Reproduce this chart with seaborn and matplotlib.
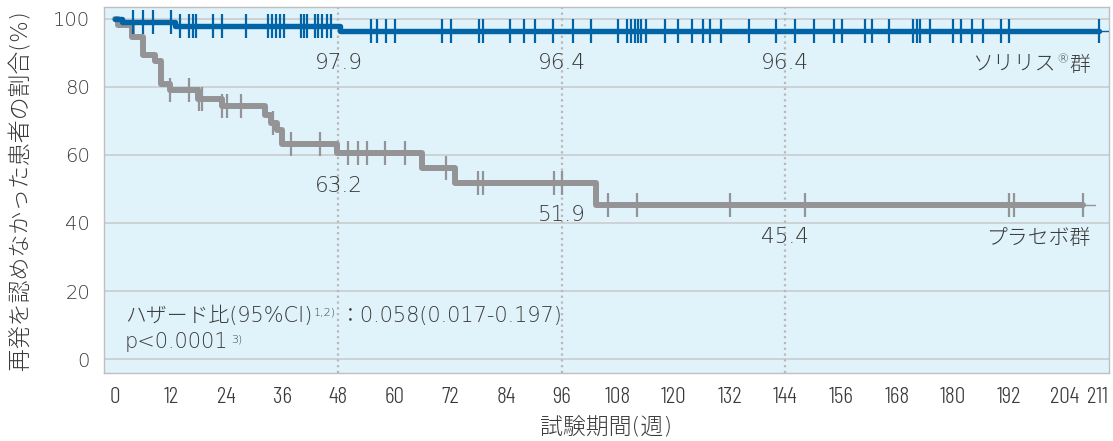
"""
Kaplan-Meier style chart: relapse-free patients, Soliris vs placebo.
"""

import numpy as np
import pandas as pd
import matplotlib
matplotlib.use("Agg")
import matplotlib.pyplot as plt
import seaborn as sns
from matplotlib import font_manager

# ── data ──────────────────────────────────────────────────────────────────────
soliris_step_weeks = [0, 1.5, 13.0, 48.3]
soliris_step_pct = [100, 99.0, 97.9, 96.4]
soliris_end_week = 211.3
soliris_censor_weeks = [
    3.9, 6.1, 8.1, 12.0, 14.0, 16.0, 16.8, 17.5, 21.0, 23.1, 28.1, 32.9, 33.7,
    34.5, 35.4, 36.4, 39.9, 40.6, 41.2, 43.0, 43.7, 44.5, 45.5, 46.4, 54.9,
    56.2, 58.2, 60.1, 70.3, 72.2, 78.2, 79.1, 84.8, 87.8, 90.2, 94.0, 98.3,
    102.2, 108.1, 109.9, 110.8, 111.7, 112.3, 112.9, 114.0, 118.1, 121.0,
    124.0, 126.4, 127.8, 130.1, 136.2, 142.0, 146.0, 150.2, 154.4, 156.1,
    161.2, 162.5, 166.3, 171.3, 172.2, 173.0, 175.0, 180.0, 181.8, 184.0,
    186.4, 190.4, 192.1, 211.3,
]

placebo_step_weeks = [0, 0.7, 3.6, 6.1, 8.6, 9.8, 11.8, 17.9, 22.9, 32.2, 33.6,
                      34.7, 35.8, 47.8, 65.9, 73.0, 103.4]
placebo_step_pct = [100, 98.2, 94.7, 89.5, 87.7, 80.9, 79.0, 76.5, 74.3, 71.8,
                    69.5, 67.4, 63.2, 60.7, 56.1, 51.9, 45.4]
placebo_end_week = 208.0
placebo_censor_weeks = [
    11.8, 16.0, 18.0, 18.7, 23.1, 24.0, 27.0, 34.0, 37.9, 44.0, 50.1, 52.1,
    54.1, 58.1, 62.3, 71.2, 78.0, 79.0, 94.3, 96.1, 106.0, 112.2, 132.1, 148.2,
    192.1, 193.1, 208.0,
]

landmark_weeks = [48, 96, 144]
soliris_landmark_labels = ["97.9", "96.4", "96.4"]
placebo_landmark_labels = ["63.2", "51.9", "45.4"]

x_ticks = [0, 12, 24, 36, 48, 60, 72, 84, 96, 108, 120, 132, 144, 156, 168,
           180, 192, 204, 211]
y_ticks = [0, 20, 40, 60, 80, 100]

BLUE = "#0064a7"
GRAY = "#949497"
BG = "#e0f2fa"
GRID = "#c6c9cc"
TEXT = "#3a3a3a"
THIN = 250  # DejaVu ExtraLight for latin, Noto CJK Light for kana/kanji

# ── style ──────────────────────────────────────────────────────────────────────
sns.set_theme(style="white")
plt.rcParams["font.family"] = ["DejaVu Sans", "Noto Sans CJK JP"]
plt.rcParams["font.weight"] = THIN
plt.rcParams["axes.labelweight"] = THIN
plt.rcParams["text.color"] = TEXT
plt.rcParams["axes.labelcolor"] = TEXT
plt.rcParams["xtick.color"] = TEXT
plt.rcParams["ytick.color"] = TEXT

names = {f.name for f in font_manager.fontManager.ttflist}
if "Barlow Condensed" in names:
    tick_font = dict(family="Barlow Condensed", weight=300, fontsize=17)
else:
    tick_font = dict(family="DejaVu Sans", stretch="condensed", fontsize=13)


def curve_frame(step_weeks, step_pct, end_week):
    return pd.DataFrame({"week": list(step_weeks) + [end_week],
                         "pct": list(step_pct) + [step_pct[-1]]})


def censor_frame(step_weeks, step_pct, censor_weeks):
    idx = np.searchsorted(step_weeks, censor_weeks, side="right") - 1
    return pd.DataFrame({"week": censor_weeks,
                         "pct": np.asarray(step_pct)[idx]})


def text_run(ax, x, y, parts, align="left"):
    # consecutive text pieces on one baseline (for superscripts)
    renderer = ax.figure.canvas.get_renderer()
    sign = 1 if align == "left" else -1
    seq = parts if align == "left" else parts[::-1]
    dx = 0.0
    for s, size, rise, pad in seq:
        t = ax.annotate(s, xy=(x, y), xytext=(sign * (dx + pad), rise),
                        textcoords="offset points", fontsize=size,
                        ha=align, va="baseline", color=TEXT)
        w = t.get_window_extent(renderer).width * 72 / ax.figure.dpi
        dx += pad + w


fig, ax = plt.subplots(figsize=(11.13, 4.41), dpi=100)
fig.subplots_adjust(left=0.0934, right=0.9964, bottom=0.1542, top=0.9841)
ax.set_facecolor(BG)

# grid
for yv in y_ticks:
    ax.axhline(yv, color=GRID, lw=1.1, zorder=0)
for xv in landmark_weeks:
    ax.axvline(xv, color="#b8b8b8", lw=1.6, ls=(0, (1, 1.6)), zorder=0)

# curves
placebo = curve_frame(placebo_step_weeks, placebo_step_pct, placebo_end_week)
soliris = curve_frame(soliris_step_weeks, soliris_step_pct, soliris_end_week)

sns.lineplot(data=placebo, x="week", y="pct", ax=ax, color=GRAY, lw=4.3,
             drawstyle="steps-post", estimator=None, sort=False, zorder=2)
ax.plot([placebo_end_week, placebo_end_week + 2.6],
        [placebo_step_pct[-1]] * 2, color=GRAY, lw=1.0, zorder=2)
sns.scatterplot(data=censor_frame(placebo_step_weeks, placebo_step_pct,
                                  placebo_censor_weeks),
                x="week", y="pct", ax=ax, marker="|", s=300, color=GRAY,
                linewidth=1.6, zorder=3)

sns.lineplot(data=soliris, x="week", y="pct", ax=ax, color=BLUE, lw=3.9,
             drawstyle="steps-post", estimator=None, sort=False, zorder=4)
ax.plot([soliris_end_week, soliris_end_week + 2.4],
        [soliris_step_pct[-1]] * 2, color=BLUE, lw=1.0, zorder=4)
sns.scatterplot(data=censor_frame(soliris_step_weeks, soliris_step_pct,
                                  soliris_censor_weeks),
                x="week", y="pct", ax=ax, marker="|", s=280, color=BLUE,
                linewidth=1.6, zorder=5)

# landmark values
for wk, lab in zip(landmark_weeks, soliris_landmark_labels):
    ax.text(wk, 87.0, lab, ha="center", va="center", fontsize=15.5)
for wk, lab, yy in zip(landmark_weeks, placebo_landmark_labels, [51.0, 42.4, 36.0]):
    ax.text(wk, yy, lab, ha="center", va="center", fontsize=15.5)

# axes
ax.set_xlim(-2.36, 213.5)
ax.set_ylim(-4.1, 103.5)
ax.set_xticks(x_ticks)
ax.set_xticklabels([str(v) for v in x_ticks], **tick_font)
ax.set_yticks(y_ticks)
ax.set_yticklabels([str(v) for v in y_ticks], fontsize=14)
ax.tick_params(axis="both", length=0, pad=10)
for sp in ax.spines.values():
    sp.set_color("#bfbfbf")
    sp.set_linewidth(1.0)

ax.set_xlabel("試験期間(週)", fontsize=16.5)
ax.set_ylabel("再発を認めなかった患者の割合(%)", fontsize=16.5)
ax.xaxis.set_label_coords(0.5, -0.12)
ax.yaxis.set_label_coords(-0.0706, 0.5)

fig.canvas.draw()
text_run(ax, 209.6, 84.8, [("ソリリス", 15, 0, 0), ("®", 9, 5, 0.5),
                           ("群", 15, 0, 0.5)], align="right")
text_run(ax, 209.6, 33.8, [("プラセボ群", 15, 0, 0)], align="right")
text_run(ax, 2.1, 11.0, [("ハザード比(95%CI)", 15, 0, 0),
                         ("1,2)", 8, 4.5, 1),
                         ("：0.058(0.017-0.197)", 15, 0, 3)])
text_run(ax, 2.1, 3.2, [("p<0.0001", 15, 0, 0),
                        ("3)", 8, 4.0, 2)])

fig.savefig("out.png", dpi=100)
